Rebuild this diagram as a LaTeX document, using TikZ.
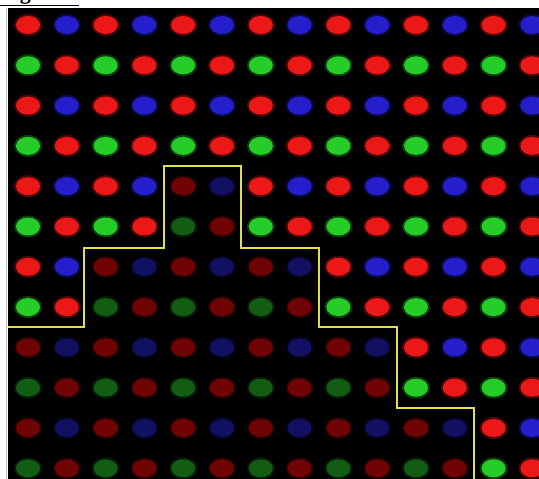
\documentclass[tikz,border=0pt]{standalone}
\usepackage{fontspec}
\setmainfont{Liberation Serif}
\definecolor{bR}{RGB}{236,24,24}
\definecolor{bB}{RGB}{36,30,205}
\definecolor{bG}{RGB}{38,205,40}
\definecolor{dR}{RGB}{112,4,4}
\definecolor{dB}{RGB}{18,16,96}
\definecolor{dG}{RGB}{18,92,20}
\definecolor{yel}{RGB}{226,226,70}
\tikzset{
  dot/.style={fill=#1},
  halo/.style={fill=#1, opacity=0.3},
  stairline/.style={draw=yel, line width=2.3pt, line join=miter},
  captiontext/.style={font=\bfseries\fontsize{22}{24}\selectfont, inner sep=0pt, anchor=base west}
}
\begin{document}
\begin{tikzpicture}[x=1pt,y=-1pt]
\useasboundingbox (0,0) rectangle (539,479);
\fill[white] (0,0) rectangle (539,479);
\fill[black] (8,8) rectangle (539,479);
\draw[black!25, line width=1pt] (6,8) -- (6,479);
\begin{scope}
  \clip (0,0) rectangle (539,7.5);
  \node[captiontext] (caption) at (0,-1) {\underline{Figure 4}\,:};
\end{scope}
\begin{scope}
  \clip (8,8) rectangle (539,479);
  \foreach \r in {0,...,11}{
    \foreach \c in {0,...,13}{
      \pgfmathtruncatemacro{\th}{\c<2 ? 8 : (\c<4 ? 6 : (\c<6 ? 4 : (\c<8 ? 6 : (\c<10 ? 8 : (\c<12 ? 10 : 99)))))}
      \pgfmathtruncatemacro{\kind}{mod(\r,2)*2+mod(\c,2)}
      \ifnum\r<\th \def\pre{b}\else\def\pre{d}\fi
      \ifcase\kind \def\col{R}\or\def\col{B}\or\def\col{G}\or\def\col{R}\fi
      \fill[halo=\pre\col] (28+38.8*\c, 25+40.3*\r) ellipse [x radius=14, y radius=11];
      \fill[dot=\pre\col] (28+38.8*\c, 25+40.3*\r) ellipse [x radius=12, y radius=9];
    }
  }
  \draw[stairline] (8,327) -- (84,327) -- (84,248) -- (164,248) -- (164,166) -- (241,166) -- (241,248) -- (319,248) -- (319,327) -- (397,327) -- (397,408) -- (474,408) -- (474,481);
\end{scope}
\end{tikzpicture}
\end{document}
